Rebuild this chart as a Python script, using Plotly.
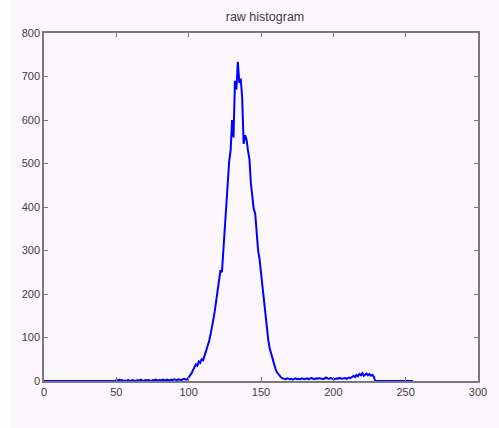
import plotly.graph_objects as go

# intensity levels 0..255
levels = list(range(256))

counts = (
    # 0-44
    [0] * 45
    # 45-99
    + [0, 0, 0, 0, 0, 2, 1, 3, 1, 2,
       0, 1, 0, 2, 1, 0, 2, 1, 0, 1,
       2, 1, 3, 1, 0, 2, 1, 2, 1, 0,
       2, 1, 3, 2, 1, 2, 1, 3, 2, 1,
       3, 2, 1, 3, 2, 4, 3, 2, 4, 3,
       2, 4, 5, 3, 4]
    # 100-165
    + [8, 12, 18, 25, 32, 38, 35, 45, 42, 50,
       48, 58, 65, 78, 90, 105, 120, 140, 160, 182,
       205, 235, 255, 250, 300, 360, 420, 465, 505, 530,
       600, 560, 690, 670, 734, 685, 695, 650, 545, 565,
       555, 530, 510, 455, 420, 395, 385, 340, 300, 280,
       250, 210, 175, 145, 120, 95, 75, 62, 48, 38,
       28, 20, 15, 10, 8, 6]
    # 166-212
    + [5, 4, 6, 5, 4, 5, 3, 5, 6, 4,
       5, 4, 6, 5, 4, 5, 6, 4, 5, 7,
       5, 4, 6, 5, 7, 6, 5, 4, 6, 8,
       6, 5, 7, 6, 5, 4, 6, 5, 7, 6,
       5, 6, 7, 5, 6, 8, 7]
    # 213-228
    + [10, 12, 9, 14, 11, 16, 13, 18, 12, 15, 17, 13, 16, 12, 14, 10]
    # 229-255
    + [0] * 27
)

x_ticks = [0, 50, 100, 150, 200, 250, 300]
y_ticks = [0, 100, 200, 300, 400, 500, 600, 700, 800]

bg = "#FCF7FC"
font_family = "Liberation Sans, Arial, sans-serif"

fig = go.Figure()
fig.add_trace(go.Scatter(
    x=levels, y=counts, mode="lines",
    line=dict(color="#0000FF", width=2),
    hoverinfo="skip",
))

axis_common = dict(
    showgrid=False, zeroline=False,
    showline=True, linecolor="#7a7a7a", linewidth=1.5,
    mirror="allticks", ticks="inside", ticklen=4, tickcolor="#7a7a7a",
    tickfont=dict(family=font_family, size=11, color="#404040"),
)

fig.update_layout(
    width=489, height=428,
    margin=dict(l=32, r=12, t=33, b=47),
    paper_bgcolor=bg, plot_bgcolor=bg,
    showlegend=False,
    title=dict(text="raw histogram", x=(265 - 10) / 489, xanchor="center",
               y=1 - 17 / 428, yanchor="middle",
               font=dict(family=font_family, size=12.5, color="#404040")),
    xaxis=dict(range=[0, 300], tickvals=x_ticks, **axis_common),
    yaxis=dict(range=[0, 800], tickvals=y_ticks, **axis_common),
)

fig.write_html("out.html",
               post_script="document.body.style.margin='0 0 0 10px';document.body.style.background='#FFFFFF';")
